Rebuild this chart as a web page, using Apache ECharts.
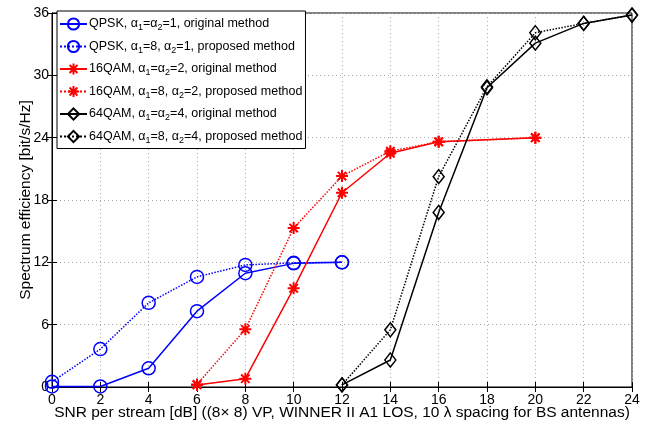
<!DOCTYPE html>
<html>
<head>
<meta charset="utf-8">
<script src="https://cdn.jsdelivr.net/npm/echarts@6/dist/echarts.min.js"></script>
<style>
  html, body { margin: 0; padding: 0; background: #fff; }
  #main { width: 648px; height: 424px; }
</style>
</head>
<body>
<div id="main"></div>
<script>
// x positions and values per curve
var qpskX = [0, 2, 4, 6, 8, 10, 12];
var qpskOrig = [0.05, 0.05, 1.8, 7.3, 10.95, 11.9, 12.0];
var qpskProp = [0.5, 3.65, 8.1, 10.6, 11.75, 11.95, 12.0];

var qam16X = [6, 8, 10, 12, 14, 16, 20];
var qam16Orig = [0.2, 0.8, 9.5, 18.7, 22.5, 23.6, 24.0];
var qam16Prop = [0.25, 5.55, 15.3, 20.3, 22.7, 23.6, 24.0];

var qam64X = [12, 14, 16, 18, 20, 22, 24];
var qam64Orig = [0.2, 2.6, 16.8, 28.8, 33.1, 35.0, 35.8];
var qam64Prop = [0.2, 5.5, 20.25, 28.9, 34.1, 35.0, 35.8];

var names = ['q1', 'q2', 'm1', 'm2', 'h1', 'h2'];
var legendText = [
  'QPSK, α{s|1}=α{s|2}=1, original method',
  'QPSK, α{s|1}=8, α{s|2}=1, proposed method',
  '16QAM, α{s|1}=α{s|2}=2, original method',
  '16QAM, α{s|1}=8, α{s|2}=2, proposed method',
  '64QAM, α{s|1}=α{s|2}=4, original method',
  '64QAM, α{s|1}=8, α{s|2}=4, proposed method'
];

function pairs(xs, ys) {
  return xs.map(function (x, i) { return [x, ys[i]]; });
}

var star = 'path://M0,-10L0,10M-10,0L10,0M-7,-7L7,7M-7,7L7,-7';
var diamond = 'path://M0,-10L7.5,0L0,10L-7.5,0Z';

function mk(name, xs, ys, color, type, symbol, size, bw) {
  return {
    name: name,
    type: 'line',
    data: pairs(xs, ys),
    symbol: symbol,
    symbolSize: size,
    showSymbol: true,
    lineStyle: { color: color, width: 1.5, type: type },
    itemStyle: { color: 'rgba(0,0,0,0)', borderColor: color, borderWidth: bw || 1.5 },
    emphasis: { disabled: true },
    z: 3
  };
}

var chart = echarts.init(document.getElementById('main'), null, { renderer: 'canvas' });

var font = 'Liberation Sans, Arial, Helvetica, sans-serif';

chart.setOption({
  backgroundColor: '#fff',
  animation: false,
  textStyle: { fontFamily: font },
  grid: {
    left: 52, right: 16, top: 13, bottom: 37,
    outerBoundsMode: 'none', containLabel: false,
    show: true, borderColor: '#000', borderWidth: 1
  },
  legend: {
    orient: 'vertical',
    left: 57,
    top: 11,
    data: names,
    backgroundColor: '#fff',
    borderColor: '#000',
    borderWidth: 1,
    borderRadius: 0,
    padding: [4, 3, 3, 2],
    itemGap: 4.5,
    itemWidth: 27,
    itemHeight: 14,
    formatter: function (n) { return legendText[names.indexOf(n)]; },
    textStyle: {
      fontFamily: font,
      fontSize: 12.5,
      color: '#000',
      padding: [0, 0, 0, -3],
      lineHeight: 18,
      rich: {
        s: { fontSize: 9, fontFamily: font, padding: [8, 0, 0, 0] }
      }
    }
  },
  xAxis: [{
    type: 'value', min: 0, max: 24, interval: 2,
    name: 'SNR per stream [dB] ((8× 8) VP, WINNER II A1 LOS, 10 λ spacing for BS antennas)',
    nameLocation: 'middle', nameGap: 18, nameMoveOverlap: false,
    nameTextStyle: { fontSize: 15.5, color: '#000', fontFamily: font },
    axisLine: { lineStyle: { color: '#000', width: 1 } },
    axisTick: { inside: true, length: 5, lineStyle: { color: '#000' } },
    axisLabel: { fontSize: 14, color: '#000', margin: 6 },
    splitLine: { lineStyle: { color: '#aaa', type: [1, 3], width: 1 } }
  }, {
    type: 'value', min: 0, max: 24, interval: 2, position: 'top',
    axisLine: { show: true, lineStyle: { color: '#000' } },
    axisTick: { inside: true, length: 5, lineStyle: { color: '#000' } },
    axisLabel: { show: false }, splitLine: { show: false }
  }],
  yAxis: [{
    type: 'value', min: 0, max: 36, interval: 6,
    name: 'Spectrum efficiency [bit/s/Hz]',
    nameLocation: 'middle', nameGap: 18, nameMoveOverlap: false,
    nameTextStyle: { fontSize: 15.5, color: '#000', fontFamily: font },
    axisLine: { show: true, lineStyle: { color: '#000', width: 1 } },
    axisTick: { show: true, inside: true, length: 5, lineStyle: { color: '#000' } },
    axisLabel: { fontSize: 14, color: '#000', margin: 3 },
    splitLine: { lineStyle: { color: '#aaa', type: [1, 3], width: 1 } }
  }, {
    type: 'value', min: 0, max: 36, interval: 6, position: 'right',
    axisLine: { show: true, lineStyle: { color: '#000' } },
    axisTick: { show: true, inside: true, length: 5, lineStyle: { color: '#000' } },
    axisLabel: { show: false }, splitLine: { show: false }
  }],
  series: [
    mk('q1', qpskX, qpskOrig, '#0000ff', 'solid', 'circle', 13),
    mk('q2', qpskX, qpskProp, '#0000ff', 'dotted', 'circle', 13),
    mk('m1', qam16X, qam16Orig, '#ff0000', 'solid', star, 12, 2),
    mk('m2', qam16X, qam16Prop, '#ff0000', 'dotted', star, 12, 2),
    mk('h1', qam64X, qam64Orig, '#000000', 'solid', diamond, [11, 14]),
    mk('h2', qam64X, qam64Prop, '#000000', 'dotted', diamond, [11, 14])
  ]
});
</script>
</body>
</html>
